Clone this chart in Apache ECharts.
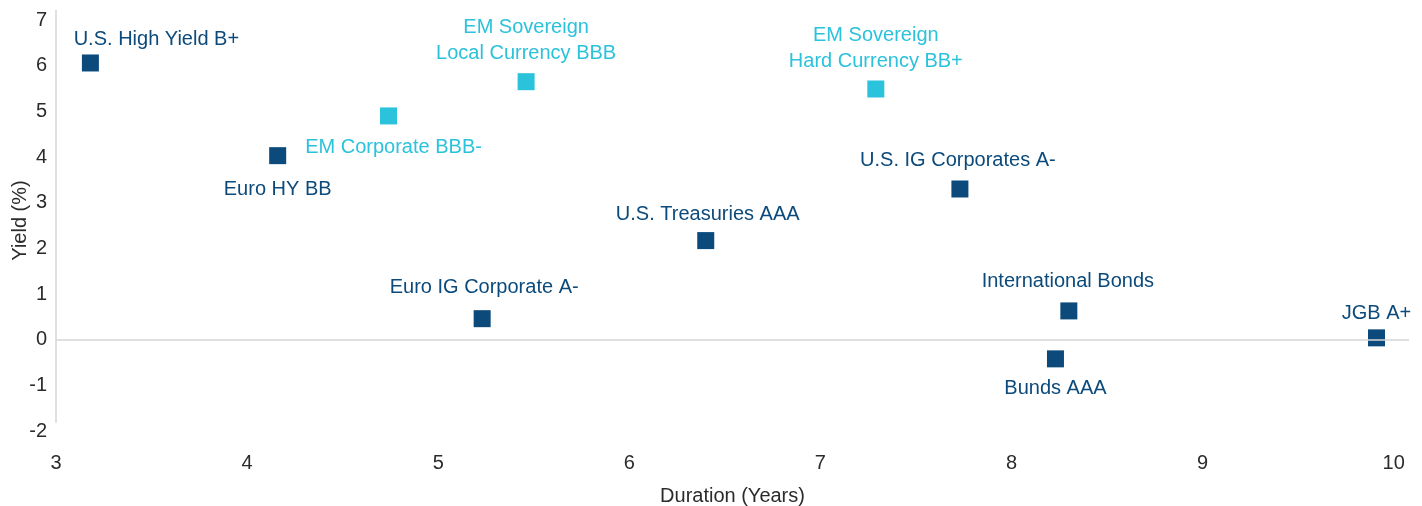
<!DOCTYPE html>
<html>
<head>
<meta charset="utf-8">
<script src="https://cdn.jsdelivr.net/npm/echarts@6/dist/echarts.min.js"></script>
<style>
html, body { margin: 0; padding: 0; background: #fff; }
#ct1 { width: 1422px; height: 506px; }
</style>
</head>
<body>
<div id="ct1"></div>
<script>
// dark squares
var coreNames = ['U.S. High Yield B+', 'Euro HY BB', 'U.S. IG Corporates A-', 'U.S. Treasuries AAA',
    'Euro IG Corporate A-', 'International Bonds', 'Bunds AAA', 'JGB A+'];
var coreDuration = [3.18, 4.16, 7.73, 6.40, 5.23, 8.30, 8.23, 9.91];
var coreYield = [6.06, 4.03, 3.30, 2.17, 0.46, 0.63, -0.42, 0.04];

// light (EM) squares
var emNames = ['EM Corporate BBB-', 'EM Sovereign\nLocal Currency BBB', 'EM Sovereign\nHard Currency BB+'];
var emDuration = [4.74, 5.46, 7.29];
var emYield = [4.90, 5.65, 5.49];

var xTicks = [3, 4, 5, 6, 7, 8, 9, 10];
var yTicks = [-2, -1, 0, 1, 2, 3, 4, 5, 6, 7];

var darkBlue = '#0b4a7b', lightBlue = '#2bc2db', textFont = 'Liberation Sans';

// where each label sits around its square
var labelPos = {
    'U.S. High Yield B+': ['top', 2, 66],
    'Euro HY BB': ['bottom', 12, 0],
    'U.S. IG Corporates A-': ['top', 7, -2],
    'U.S. Treasuries AAA': ['top', 5, 2],
    'Euro IG Corporate A-': ['top', 10, 2],
    'International Bonds': ['top', 8, -1],
    'Bunds AAA': ['bottom', 8, 0],
    'JGB A+': ['top', 3, 0],
    'EM Corporate BBB-': ['bottom', 10, 5],
    'EM Sovereign\nLocal Currency BBB': ['top', 7, 0],
    'EM Sovereign\nHard Currency BB+': ['top', 6, 0]
};

function $each(arr, fn) { for (var i = 0; i < arr.length; i++) fn(i, arr[i]); }

function buildData(names, xs, ys, color) {
    var out = [];
    $each(names, function(i, n) {
        var p = labelPos[n];
        out.push({
            name: n,
            value: [xs[i], ys[i]],
            label: {
                show: true, formatter: n, position: p[0], distance: p[1], offset: [p[2], 0],
                color: color, fontSize: 20, fontFamily: textFont, lineHeight: 26, align: 'center'
            }
        });
    });
    return out;
}

function intOnly(v) {
    return (xTicks.indexOf(v) >= 0 || yTicks.indexOf(v) >= 0) ? String(v) : '';
}

var axisText = { color: '#2b2b2b', fontSize: 20, fontFamily: textFont };
var lineGrey = { color: '#d6d6d6', width: 1.5, type: 'solid' };

var option1 = {
    animation: false,
    grid: { left: 56, right: 13, top: 10, bottom: 75, outerBoundsMode: 'none', containLabel: false },
    xAxis: {
        type: 'value', min: 3, max: 10.08, interval: 1,
        name: 'Duration (Years)', nameLocation: 'middle', nameGap: 55, nameMoveOverlap: false,
        nameTextStyle: axisText,
        axisLine: { show: false }, axisTick: { show: false }, splitLine: { show: false },
        axisLabel: Object.assign({ margin: 22, formatter: intOnly }, axisText)
    },
    yAxis: {
        type: 'value', min: -2, max: 7.22, interval: 1,
        name: 'Yield (%)', nameLocation: 'middle', nameGap: 26, nameRotate: 90, nameMoveOverlap: false,
        nameTextStyle: axisText,
        axisLine: { show: false }, axisTick: { show: false }, splitLine: { show: false },
        axisLabel: Object.assign({ margin: 9, formatter: intOnly }, axisText)
    },
    series: [{
        type: 'scatter', symbol: 'rect', symbolSize: 17, z: 3,
        itemStyle: { color: darkBlue, opacity: 1 },
        data: buildData(coreNames, coreDuration, coreYield, darkBlue),
        markLine: {
            silent: true, symbol: 'none', label: { show: false }, lineStyle: lineGrey,
            data: [
                [{ coord: [3, 0] }, { coord: [10.08, 0] }],
                [{ coord: [3, -1.82] }, { coord: [3, 7.22] }]
            ]
        }
    }, {
        type: 'scatter', symbol: 'rect', symbolSize: 17, z: 3,
        itemStyle: { color: lightBlue, opacity: 1 },
        data: buildData(emNames, emDuration, emYield, lightBlue)
    }]
};

var myChart1 = echarts.init(document.getElementById('ct1'));
myChart1.setOption(option1, true);
</script>
</body>
</html>
